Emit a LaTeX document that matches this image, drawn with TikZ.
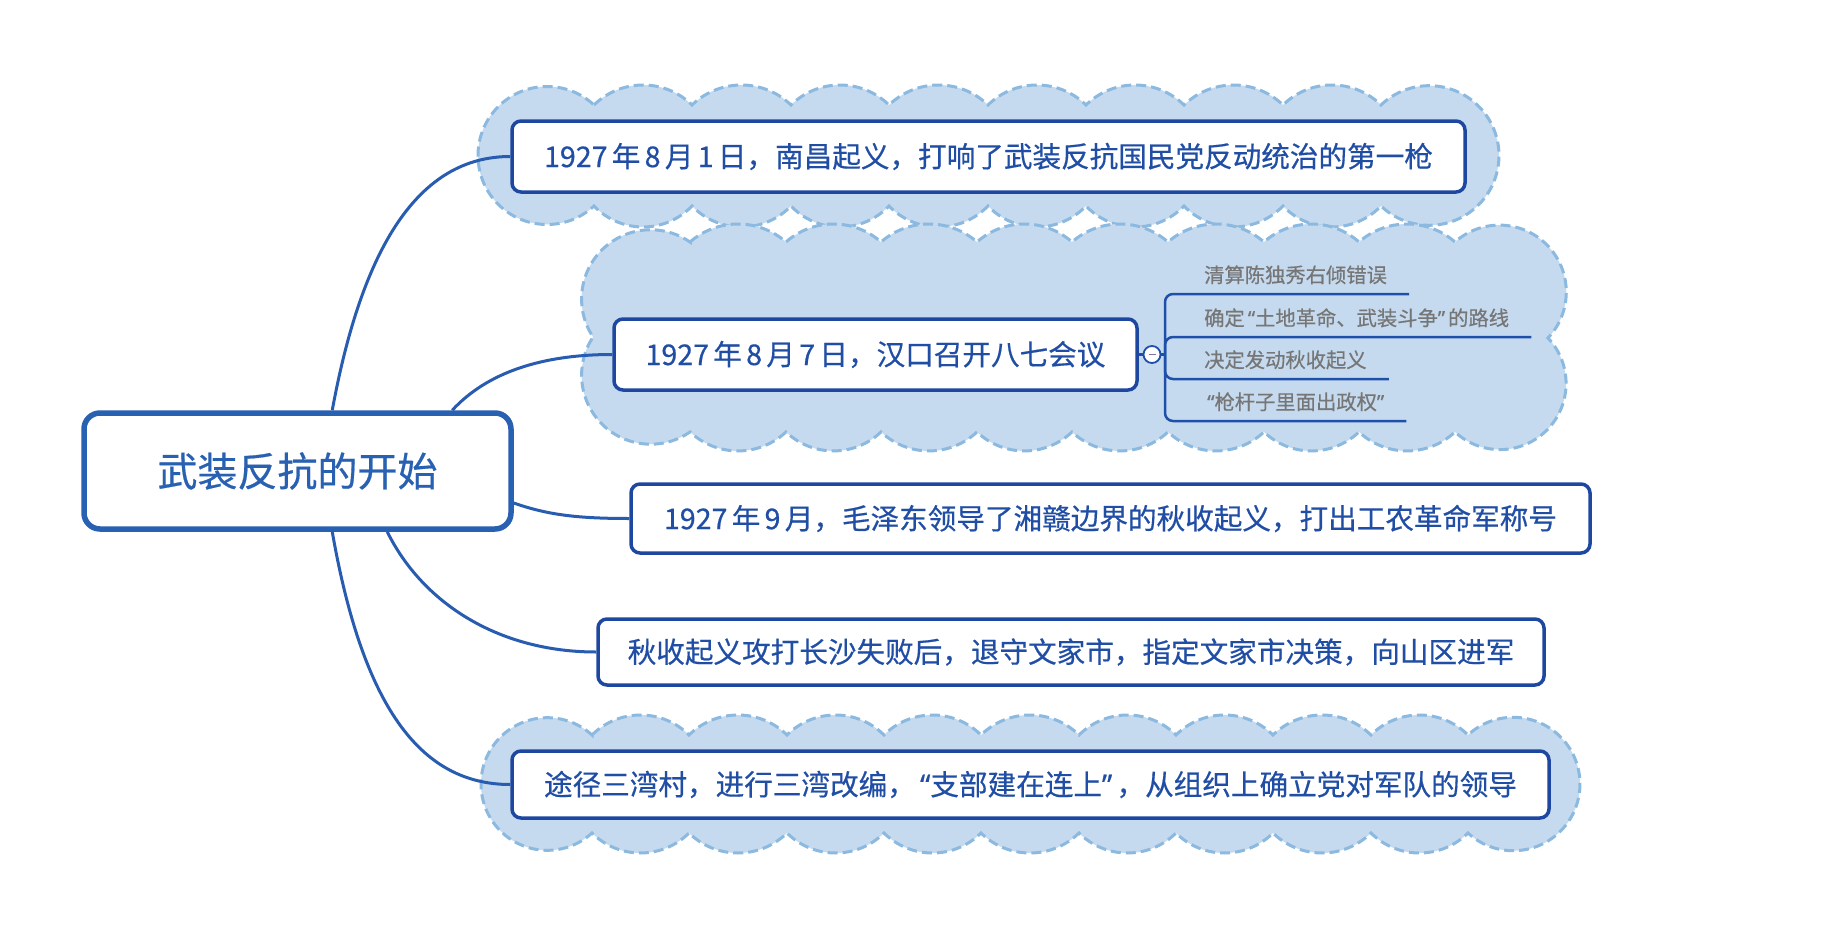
\documentclass[tikz,border=0pt]{standalone}
\usepackage{fontspec}
\setmainfont{Noto Sans CJK SC}[FakeBold=0.5]
\newfontfamily\quotefont{Noto Sans}[FakeBold=0.5]

\definecolor{rootline}{RGB}{40,96,178}
\definecolor{topicline}{RGB}{30,72,160}
\definecolor{topictext}{RGB}{33,78,165}
\definecolor{connline}{RGB}{40,92,176}
\definecolor{subline}{RGB}{30,80,170}
\definecolor{subtext}{RGB}{118,118,118}
\definecolor{cloudfill}{RGB}{197,218,238}
\definecolor{cloudline}{RGB}{140,185,224}
\definecolor{minuscol}{RGB}{120,120,165}

% small gap between digits and Chinese characters
\newcommand\gp{\hspace{0.15em}}
% narrow opening and closing quotation marks
\newcommand\oq{\hspace{0.15em}{\quotefont “}}
\newcommand\cq{{\quotefont ”}\hspace{0.15em}}

% Builds \cloudpath: a closed chain of circular arcs (clockwise).
% #1,#2: start point (x, y measured downwards); #3: list of x/y/sagitta
\newcommand\buildcloud[3]{%
  \xdef\cloudpath{(#1,-#2)}%
  \foreach \clX/\clY/\clH [remember=\clX as \plX (initially #1),
                           remember=\clY as \plY (initially #2)] in {#3}{%
    \pgfmathsetmacro\cldx{(\clX)-(\plX)}%
    \pgfmathsetmacro\cldy{(\plY)-(\clY)}%
    \pgfmathsetmacro\cllen{10*veclen(\cldx/10,\cldy/10)}%
    \pgfmathsetmacro\clrad{((\cllen/2)*(\cllen/2)/(\clH)+(\clH))/2}%
    \pgfmathsetmacro\cloff{\clrad-(\clH)}%
    \pgfmathsetmacro\clcx{((\plX)+(\clX))/2+\cloff*\cldy/\cllen}%
    \pgfmathsetmacro\clcy{-((\plY)+(\clY))/2-\cloff*\cldx/\cllen}%
    \pgfmathsetmacro\claa{atan2(-(\plY)-(\clcy),(\plX)-(\clcx))}%
    \pgfmathsetmacro\clab{atan2(-(\clY)-(\clcy),(\clX)-(\clcx))}%
    \pgfmathsetmacro\clab{ifthenelse(\clab>=\claa,\clab-360,\clab)}%
    \xdef\cloudpath{\cloudpath arc[start angle=\claa,end angle=\clab,radius=\clrad pt]}%
  }%
}

\tikzset{
  cloudshape/.style={fill=cloudfill, draw=cloudline, line width=3pt,
    dash pattern=on 10pt off 5pt},
  root/.style={draw=rootline, line width=5.5pt, rounded corners=16pt,
    fill=white, text=rootline, font=\fontsize{40}{48}\selectfont,
    inner sep=0pt},
  topic/.style={draw=topicline, line width=3.5pt, rounded corners=9pt,
    fill=white, text=topictext, font=\fontsize{28.6}{34}\selectfont,
    inner sep=0pt},
  conn/.style={draw=connline, line width=3pt},
  subtopic/.style={anchor=south west, text=subtext,
    font=\fontsize{20.3}{24}\selectfont, inner xsep=22pt, inner ysep=0pt,
    minimum height=38pt},
  subconn/.style={draw=subline, line width=2.5pt, rounded corners=8pt},
  toggle/.style={circle, draw=subline, line width=1.8pt, fill=white,
    minimum size=17pt, inner sep=0pt},
}

\begin{document}
\begin{tikzpicture}[x=1pt,y=1pt]
\useasboundingbox (0,0) rectangle (1826,-950);
\fill[white] (0,0) rectangle (1826,-950);

% clouds behind the topics
\buildcloud{594}{105}{692/105/20, 791/105/20, 889/105/20, 988/105/20,
  1086/105/20, 1184/105/20, 1283/105/20, 1381/105/20, 1381/206/118,
  1283/206/21, 1184/206/21, 1086/206/21, 988/206/21, 889/206/21,
  791/206/21, 692/206/21, 594/206/21, 594/105/116}
\path[cloudshape] \cloudpath -- cycle;

\buildcloud{690}{242}{786/242/18, 881/242/18, 977/242/18, 1072/242/18,
  1168/242/18, 1264/242/18, 1359/242/18, 1455/242/18, 1548/338/64,
  1455/432/64, 1359/432/19, 1264/432/19, 1168/432/19, 1072/432/19,
  977/432/19, 881/432/19, 786/432/19, 690/432/19, 593/337/56,
  690/242/56}
\path[cloudshape] \cloudpath -- cycle;

\buildcloud{592}{735}{689/735/20, 787/735/20, 884/735/20, 981/735/20,
  1079/735/20, 1176/735/20, 1273/735/20, 1371/735/20, 1468/735/20,
  1468/833/112, 1371/833/20, 1273/833/20, 1176/833/20, 1079/833/20,
  981/833/20, 884/833/20, 787/833/20, 689/833/20, 592/833/20,
  592/735/111}
\path[cloudshape] \cloudpath -- cycle;

% root and main topics
\node[root, minimum width=427pt, minimum height=116pt] (c) at (297.5,-471)
  {武装反抗的开始};
\node[topic, minimum width=953pt, minimum height=71pt] (t1) at (988.5,-156.5)
  {1927\gp 年\gp 8\gp 月\gp 1\gp 日，南昌起义，打响了武装反抗国民党反动统治的第一枪};
\node[topic, minimum width=523pt, minimum height=71pt] (t2) at (875.5,-354.5)
  {1927\gp 年\gp 8\gp 月\gp 7\gp 日，汉口召开八七会议};
\node[topic, minimum width=959pt, minimum height=69pt] (t3) at (1110.5,-518.5)
  {1927\gp 年\gp 9\gp 月，毛泽东领导了湘赣边界的秋收起义，打出工农革命军称号};
\node[topic, minimum width=946pt, minimum height=66pt] (t4) at (1071,-652)
  {秋收起义攻打长沙失败后，退守文家市，指定文家市决策，向山区进军};
\node[topic, minimum width=1037pt, minimum height=67pt] (t5) at (1030.5,-784.5)
  {途径三湾村，进行三湾改编，\oq 支部建在连上\cq，从组织上确立党对军队的领导};

% connectors from the root
\draw[conn] ([xshift=251pt]c.north west) .. controls +(30,163) and +(-92,0) .. (t1.west);
\draw[conn] ([xshift=371pt]c.north west) .. controls +(35,38) and +(-70,0) .. (t2.west);
\draw[conn] ([yshift=-32pt]c.east) .. controls +(34,-12) and +(-51,0) .. (t3.west);
\draw[conn] ([xshift=306pt]c.south west) .. controls +(35,-71) and +(-98,0) .. (t4.west);
\draw[conn] ([xshift=251pt]c.south west) .. controls +(30,-171) and +(-92,0) .. (t5.west);

% collapse toggle and sub-topics of the August 7 meeting
\node[toggle] (tg) at (1152,-354.5) {};
\draw[minuscol, line width=1.5pt] ([xshift=-3.5pt]tg.center) -- ([xshift=3.5pt]tg.center);
\coordinate (j) at (1165,-354.5);
\draw[subconn] (t2.east) -- (tg.west);
\draw[subconn] (tg.east) -- (j);

\node[subtopic] (s1) at (1182,-294) {清算陈独秀右倾错误};
\node[subtopic] (s2) at (1182,-337) {确定\oq 土地革命、武装斗争\cq 的路线};
\node[subtopic] (s3) at (1182,-379) {决定发动秋收起义};
\node[subtopic] (s4) at (1182,-421) {\oq 枪杆子里面出政权\cq};

\draw[subconn] (j) |- (s1.south west) -- (s1.south east);
\draw[subconn] (j) |- (s2.south west) -- (s2.south east);
\draw[subconn] (j) |- (s3.south west) -- (s3.south east);
\draw[subconn] (j) |- (s4.south west) -- (s4.south east);
\end{tikzpicture}
\end{document}
